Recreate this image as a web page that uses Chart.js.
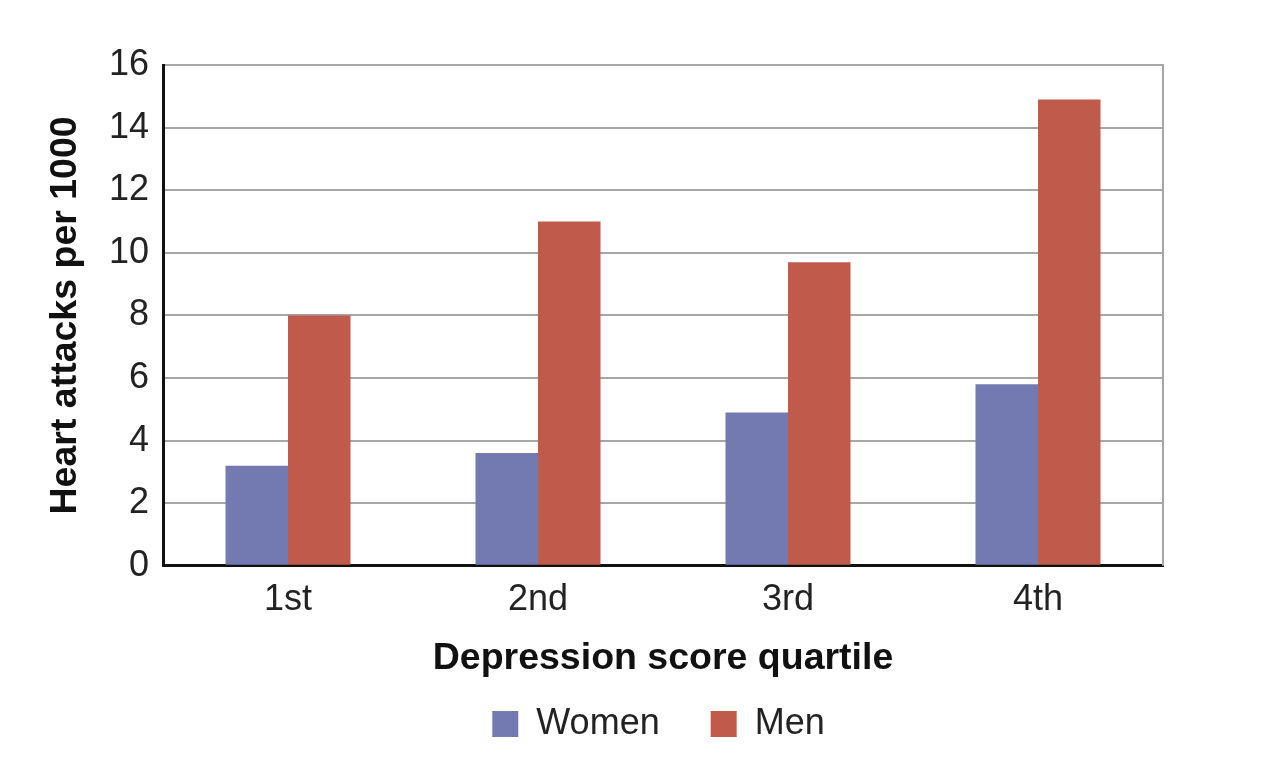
<!DOCTYPE html>
<html>
<head>
<meta charset="utf-8">
<script src="https://cdn.jsdelivr.net/npm/chart.js@4"></script>
<style>
  html, body { margin: 0; padding: 0; background: #fff; }
  #wrap { width: 1264px; height: 760px; }
</style>
</head>
<body>
<div id="wrap"><canvas id="barChart" width="1264" height="760"></canvas></div>
<script>
const quartiles = ["1st", "2nd", "3rd", "4th"];
const women = [3.2, 3.6, 4.9, 5.8];
const men = [8.0, 11.0, 9.7, 14.9];
const yTicks = [0, 2, 4, 6, 8, 10, 12, 14, 16];

const FONT = "'Liberation Sans', Arial, sans-serif";
const TEXT = "#222222";
const LEGEND_GAP = 51;

// right-hand frame line, and nudge the legend into place
const framePlugin = {
    id: "frame",
    afterLayout(chart) {
        const lg = chart.legend;
        if (lg) {
            lg.left += 77; lg.right += 77;
            lg.top -= (LEGEND_GAP - 12);
        }
    },
    afterDatasetsDraw(chart) {
        const { ctx, chartArea } = chart;
        ctx.save();
        ctx.strokeStyle = "#a6a6a6";
        ctx.lineWidth = 2;
        ctx.beginPath();
        ctx.moveTo(chartArea.right, chartArea.top - 1);
        ctx.lineTo(chartArea.right, chartArea.bottom);
        ctx.stroke();
        ctx.restore();
    }
};

const ctx = document.getElementById("barChart").getContext("2d");
new Chart(ctx, {
    type: "bar",
    data: {
        labels: quartiles,
        datasets: [{
            label: "Women",
            data: women,
            backgroundColor: "#737ab1",
        }, {
            label: "Men",
            data: men,
            backgroundColor: "#c05a4a",
        }]
    },
    options: {
        responsive: false,
        animation: false,
        layout: { padding: { top: 65, right: 101, bottom: -6, left: 0 } },
        datasets: { bar: { categoryPercentage: 0.5, barPercentage: 1.0 } },
        plugins: {
            legend: {
                position: "bottom",
                maxHeight: 72,
                labels: {
                    font: { family: FONT, size: 36 },
                    color: TEXT,
                    boxWidth: 26,
                    boxHeight: 26,
                    padding: LEGEND_GAP
                }
            },
            tooltip: { enabled: false }
        },
        scales: {
            x: {
                grid: { display: false },
                border: { color: "#111", width: 3 },
                ticks: { font: { family: FONT, size: 36 }, color: TEXT, padding: 5 },
                title: {
                    display: true,
                    text: "Depression score quartile",
                    font: { family: FONT, size: 37.5, weight: "bold" },
                    color: "#111",
                    padding: { top: 9, bottom: 13 }
                }
            },
            y: {
                min: 0,
                max: 16,
                afterFit(scale) { scale.width = 163; },
                afterBuildTicks(scale) { scale.ticks = yTicks.map(v => ({ value: v })); },
                grid: { color: "#a6a6a6", lineWidth: 2, drawTicks: false },
                border: { color: "#111", width: 3 },
                ticks: { font: { family: FONT, size: 36 }, color: TEXT, padding: 14 },
                title: {
                    display: true,
                    text: "Heart attacks per 1000",
                    font: { family: FONT, size: 37.5, weight: "bold" },
                    color: "#111",
                    padding: { top: 43, bottom: 0 }
                }
            }
        }
    },
    plugins: [framePlugin]
});
</script>
</body>
</html>
